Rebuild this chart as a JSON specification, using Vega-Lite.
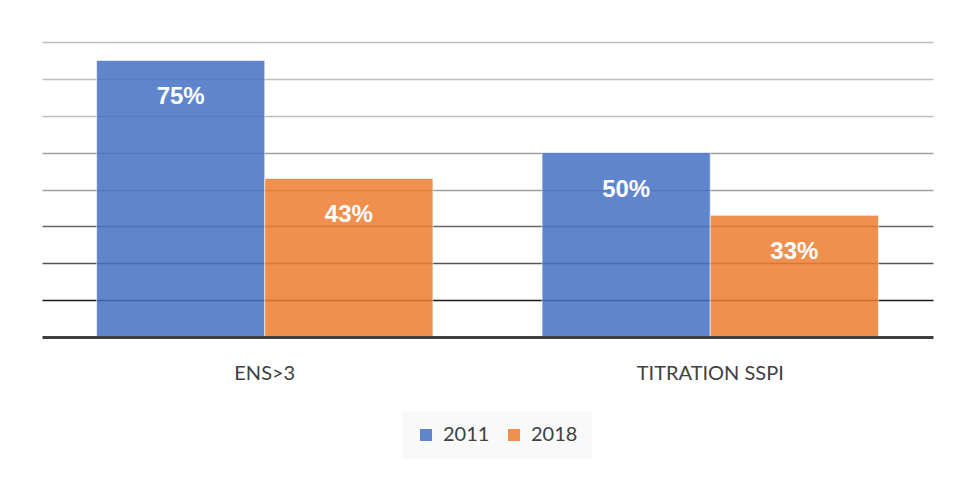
{
  "$schema": "https://vega.github.io/schema/vega-lite/v6.json",
  "autosize": "none",
  "width": 891,
  "height": 295,
  "padding": {"left": 42, "top": 42, "right": 24, "bottom": 143},
  "background": "#ffffff",
  "config": {"view": {"stroke": null}, "font": "Lato"},
  "data": {
    "values": [
      {"category": "ENS>3", "year": "2011", "value": 0.75},
      {"category": "ENS>3", "year": "2018", "value": 0.43},
      {"category": "TITRATION SSPI", "year": "2011", "value": 0.50},
      {"category": "TITRATION SSPI", "year": "2018", "value": 0.33}
    ]
  },
  "encoding": {
    "x": {
      "field": "category", "type": "nominal", "sort": null,
      "scale": {"paddingInner": 0.245, "paddingOuter": 0.1225},
      "axis": {
        "title": null, "labelAngle": 0, "ticks": false, "labelPadding": 26,
        "labelFont": "Lato", "labelFontSize": 20, "labelColor": "#404040",
        "domainColor": "#404040", "domainWidth": 3, "zindex": 2, "grid": false
      }
    },
    "xOffset": {"field": "year", "type": "nominal", "scale": {"paddingInner": 0, "paddingOuter": 0}},
    "y": {
      "field": "value", "type": "quantitative",
      "scale": {"domain": [0, 0.8], "nice": false},
      "axis": {
        "title": null, "labels": false, "ticks": false, "domain": false,
        "values": [0.1, 0.2, 0.3, 0.4, 0.5, 0.6, 0.7, 0.8],
        "gridWidth": 1.6,
        "gridColor": {
          "condition": [
            {"test": "datum.value <= 0.1", "value": "#1a1a1a"},
            {"test": "datum.value <= 0.2", "value": "#555555"},
            {"test": "datum.value <= 0.3", "value": "#666666"},
            {"test": "datum.value <= 0.5", "value": "#9e9e9e"}
          ],
          "value": "#bdbdbd"
        }
      }
    }
  },
  "layer": [
    {
      "mark": {"type": "bar", "opacity": 0.85, "stroke": "#ffffff", "strokeWidth": 1, "strokeOpacity": 0.6},
      "encoding": {
        "color": {
          "field": "year", "type": "nominal",
          "scale": {"domain": ["2011", "2018"], "range": ["#4472C4", "#ED7D31"]},
          "legend": {
            "title": null, "orient": "none", "direction": "horizontal",
            "legendX": 360, "legendY": 369,
            "symbolType": "square", "symbolSize": 144, "symbolOpacity": 0.85,
            "symbolStrokeWidth": 0,
            "labelFont": "Lato", "labelFontSize": 20, "labelColor": "#404040",
            "labelOffset": 7, "columnPadding": 14,
            "fillColor": "#f9f9f9", "padding": 14
          }
        }
      }
    },
    {
      "mark": {"type": "text", "dy": 37, "baseline": "middle", "align": "center", "color": "#ffffff", "font": "Liberation Sans", "fontWeight": "bold", "fontSize": 24},
      "encoding": {
        "text": {"field": "value", "type": "quantitative", "format": ".0%"}
      }
    }
  ]
}
